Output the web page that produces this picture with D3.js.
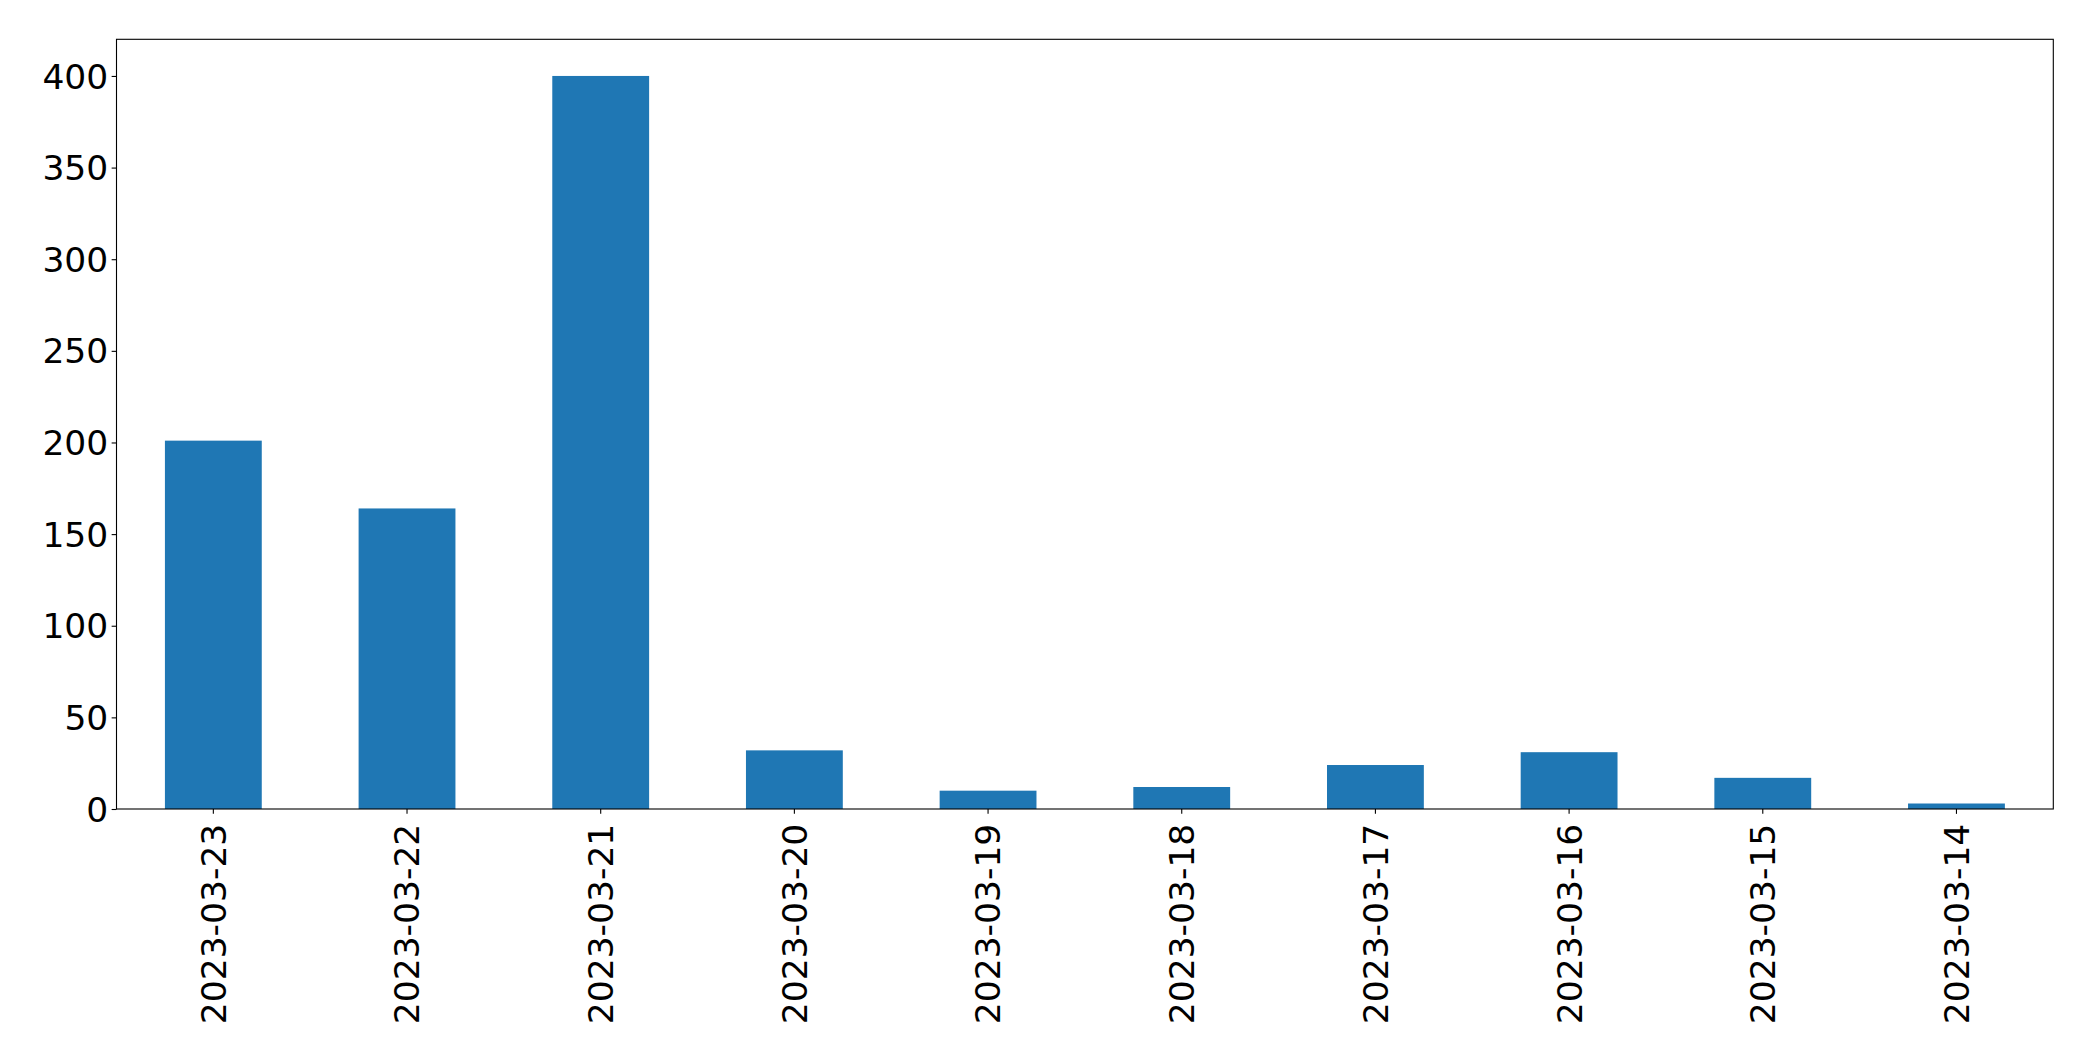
<!DOCTYPE html>
<html>
<head>
<meta charset="utf-8">
<script src="https://cdn.jsdelivr.net/npm/d3@7"></script>
<style>
html,body{margin:0;padding:0;background:#fff;}
svg{display:block;}
text{font-family:"DejaVu Sans",sans-serif;fill:#000;}
</style>
</head>
<body>
<svg id="chart" width="2093" height="1061"></svg>
<script>
const categories = ["2023-03-23","2023-03-22","2023-03-21","2023-03-20","2023-03-19","2023-03-18","2023-03-17","2023-03-16","2023-03-15","2023-03-14"];
const values = [201, 164, 400, 32, 10, 12, 24, 31, 17, 3];
const yTicks = [0, 50, 100, 150, 200, 250, 300, 350, 400];

(function () {
const mLeft = 116.5, mRight = 2053.3, mTop = 39.3, mBottom = 809;
const fs = 34.5;
const tickLen = 4.86, pad = 4.86;

const svg = d3.select("#chart");

const x = d3.scaleBand().domain(categories).range([mLeft, mRight]).paddingInner(0.5).paddingOuter(0.25);
const y = d3.scaleLinear().domain([0, 420]).range([mBottom, mTop]);

// bars
svg.append("g").selectAll("rect").data(values).join("rect")
  .attr("x", (d, i) => x(categories[i]))
  .attr("width", x.bandwidth())
  .attr("y", d => y(d))
  .attr("height", d => y(0) - y(d))
  .attr("fill", "#1f77b4");

// y axis
const yAxis = d3.axisLeft(y).tickValues(yTicks).tickSize(tickLen).tickPadding(pad).tickFormat(d3.format("d"));
const gy = svg.append("g").attr("transform", `translate(${mLeft},0)`).call(yAxis);
gy.select(".domain").remove();
gy.selectAll("line").attr("stroke", "#000").attr("stroke-width", 1.1);
gy.selectAll("text").attr("font-size", fs).attr("font-family", "DejaVu Sans").attr("dy", "0.35em").attr("x", -(tickLen + pad - 1.5));

// x axis
const xAxis = d3.axisBottom(x).tickSize(tickLen).tickPadding(pad);
const gx = svg.append("g").attr("transform", `translate(0,${mBottom})`).call(xAxis);
gx.select(".domain").remove();
gx.selectAll("line").attr("stroke", "#000").attr("stroke-width", 1.1);
gx.selectAll("text")
  .attr("font-size", fs).attr("font-family", "DejaVu Sans")
  .attr("text-anchor", "end")
  .attr("transform", "rotate(-90)")
  .attr("x", -(tickLen + pad + 5))
  .attr("y", 0)
  .attr("dy", "0.36em");

// frame
svg.append("rect")
  .attr("x", mLeft).attr("y", mTop)
  .attr("width", mRight - mLeft).attr("height", mBottom - mTop)
  .attr("fill", "none").attr("stroke", "#000").attr("stroke-width", 1.1);
})();
</script>
</body>
</html>
